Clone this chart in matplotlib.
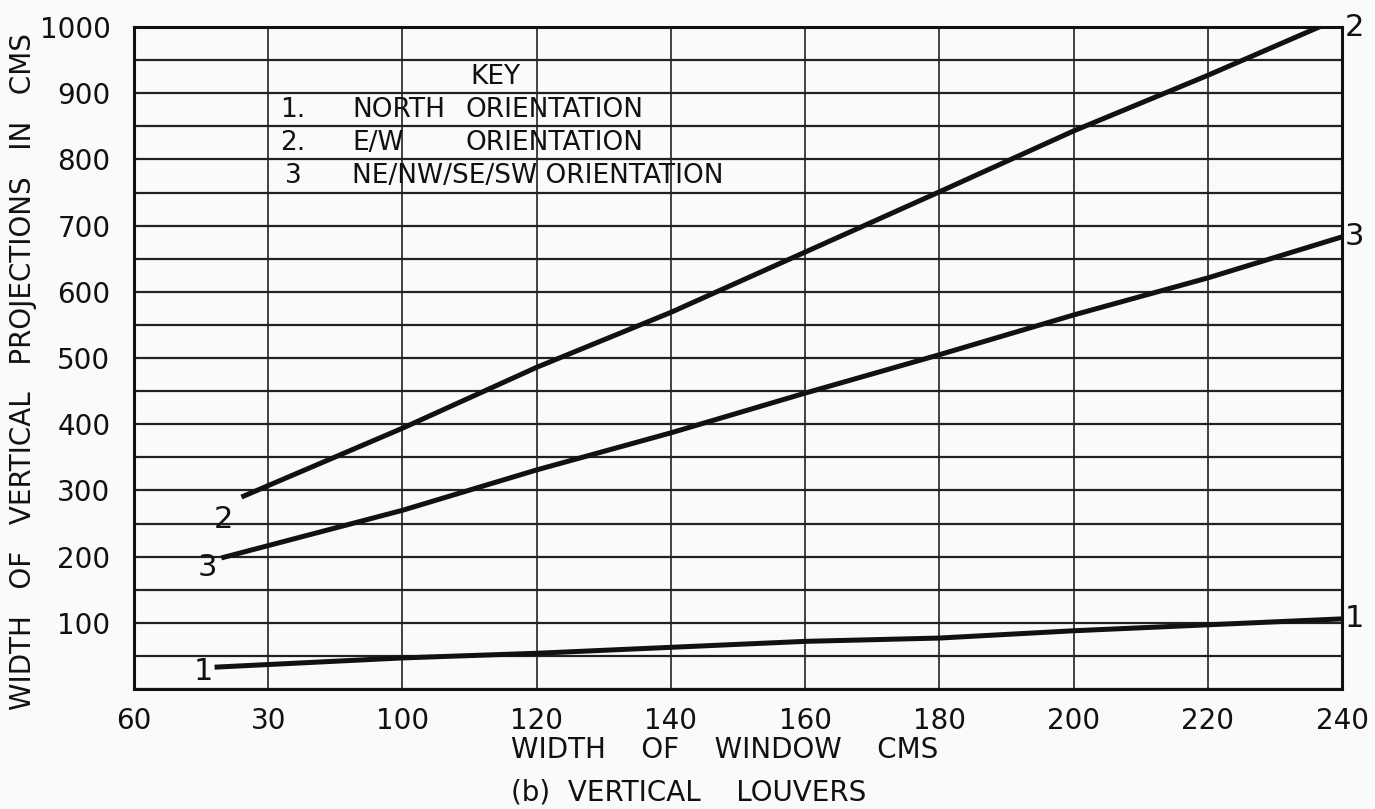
import matplotlib

matplotlib.use("Agg")
import matplotlib.pyplot as plt
from matplotlib.ticker import MultipleLocator

plt.rcParams["font.family"] = ["DejaVu Sans"]

# window width (cm) vs width of vertical projection (cm), one list per orientation
north_x = [72, 100, 120, 140, 160, 180, 200, 220, 240]
north_y = [33, 47, 54, 63, 72, 77, 88, 97, 106]

ew_x = [76, 100, 120, 140, 160, 180, 200, 220, 240]
ew_y = [290, 394, 486, 569, 660, 751, 843, 927, 1015]

diag_x = [73, 100, 120, 140, 160, 180, 200, 220, 240]
diag_y = [198, 270, 331, 387, 447, 505, 565, 621, 683]

x_ticks = [60, 80, 100, 120, 140, 160, 180, 200, 220, 240]
x_tick_labels = ["60", "30", "100", "120", "140", "160", "180", "200", "220", "240"]
y_ticks = [100, 200, 300, 400, 500, 600, 700, 800, 900, 1000]

key_rows = [
    ("1.", ["NORTH", "ORIENTATION"]),
    ("2.", ["E/W", "ORIENTATION"]),
    ("3", ["NE/NW/SE/SW ORIENTATION"]),
]

INK = "#111111"
PAPER = "#f8fafb"

fig = plt.figure(figsize=(13.75, 8.09), dpi=100, facecolor=PAPER)
ax = fig.add_axes([0.0975, 0.1483, 0.8785, 0.8183], facecolor=PAPER)

ax.set_xlim(60, 240)
ax.set_ylim(0, 1000)
ax.set_xticks(x_ticks, labels=x_tick_labels)
ax.set_yticks(y_ticks)
ax.yaxis.set_minor_locator(MultipleLocator(50))
ax.tick_params(axis="both", which="both", length=0, labelsize=20, colors=INK)
ax.tick_params(axis="x", pad=13)
ax.tick_params(axis="y", pad=17)

ax.grid(axis="x", which="major", color="#222222", lw=1.2)
ax.grid(axis="y", which="both", color="#222222", lw=1.6)
ax.set_axisbelow(True)
for spine in ax.spines.values():
    spine.set_linewidth(2.2)
    spine.set_color(INK)

series = [(north_x, north_y, "1", (-8, -3)), (ew_x, ew_y, "2", (-13, -16)), (diag_x, diag_y, "3", (-10, -7))]
for xs, ys, tag, start_off in series:
    ax.plot(xs, ys, color=INK, lw=3.6, solid_capstyle="butt", zorder=3)
    ax.annotate(tag, (xs[0], ys[0]), xytext=start_off, textcoords="offset points",
                ha="center", va="center", fontsize=22, color=INK)
    end_y = min(ys[-1], 1000)
    ax.annotate(tag, (xs[-1], end_y), xytext=(9, 0), textcoords="offset points",
                ha="center", va="center", fontsize=22, color=INK, annotation_clip=False)

# key block inside the grid
ax.text(113.8, 925, "KEY", ha="center", va="center", fontsize=19, color=INK)
word_x = [92.5, 109.4]
for i, (num, words) in enumerate(key_rows):
    row_y = 875 - 50 * i
    ax.text(83.7, row_y, num, ha="center", va="center", fontsize=19, color=INK)
    for wx, word in zip(word_x, words):
        ax.text(wx, row_y, word, ha="left", va="center", fontsize=19, color=INK)

ax.set_ylabel("WIDTH   OF   VERTICAL   PROJECTIONS   IN   CMS", fontsize=20, color=INK)
ax.yaxis.set_label_coords(-0.08, 0.48)

fig.text(511 / 1375, 1 - 750 / 809, "WIDTH    OF    WINDOW    CMS", ha="left", va="center",
         fontsize=20, color=INK)
fig.text(511 / 1375, 1 - 793 / 809, "(b)  VERTICAL    LOUVERS", ha="left", va="center",
         fontsize=20, color=INK)

fig.savefig("out.png", dpi=100, facecolor=PAPER)
